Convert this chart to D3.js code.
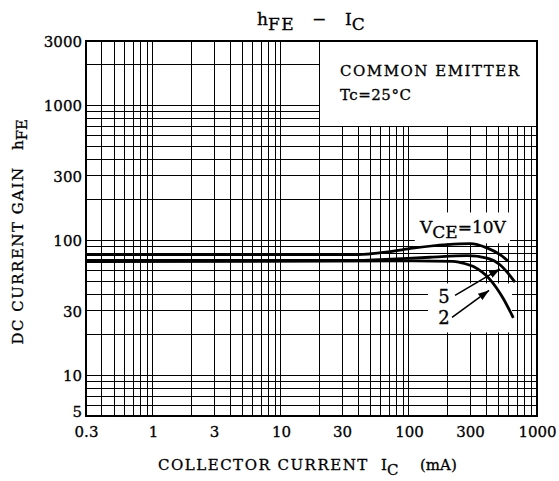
<!DOCTYPE html>
<html>
<head>
<meta charset="utf-8">
<script src="https://cdn.jsdelivr.net/npm/d3@7"></script>
<style>
body { margin: 0; background: #fff; }
text { font-family: "DejaVu Serif", serif; fill: #000; stroke: #000; stroke-width: 0.3px; }
</style>
</head>
<body>
<script>
// axis labels
const xTicks = [0.3, 1, 3, 10, 30, 100, 300, 1000]
const yTicks = [5, 10, 30, 100, 300, 1000, 3000]

// hFE vs IC (mA)
const vce10 = [[0.3, 78.5], [40, 78.5], [71, 82.5], [107, 87.5], [198, 93], [300, 94.5], [406, 88], [514, 78.5], [597, 70]]
const vce5 = [[0.3, 71], [40, 71], [59, 72], [146, 75], [284, 77], [406, 74], [514, 66], [673, 49]]
const vce2 = [[0.3, 69.5], [107, 70.5], [221, 70], [250, 68.7], [316, 64.2], [430, 51.2], [542, 37.4], [653, 26.7]]

// arrows pointing from the "5" / "2" labels to their curves
const arrow5 = [[229, 39.1], [514, 61.5]]
const arrow2 = [[217, 26.9], [422, 42.6]]
const curveLabels = [{ text: "5", ic: 188, hfe: 34.3 }, { text: "2", ic: 188, hfe: 23.9 }]

const W = 559, H = 481
const pLeft = 86, pRight = 537, pTop = 41, pBottom = 416

const svg = d3.select("body").append("svg")
    .attr("width", W)
    .attr("height", H)

const x = d3.scaleLog().domain([0.3, 1000]).range([pLeft, pRight])
const y = d3.scaleLog().domain([5, 3000]).range([pBottom, pTop])

// grid: every 1..9 of each decade
let grid = svg.append("g").attr("shape-rendering", "crispEdges")
grid.selectAll("line.v").data(x.ticks()).enter().append("line")
    .attr("x1", d => x(d)).attr("x2", d => x(d))
    .attr("y1", pTop).attr("y2", pBottom)
    .attr("stroke", "#000").attr("stroke-width", 1)
grid.selectAll("line.h").data(y.ticks()).enter().append("line")
    .attr("x1", pLeft).attr("x2", pRight)
    .attr("y1", d => y(d)).attr("y2", d => y(d))
    .attr("stroke", "#000").attr("stroke-width", 1)

// legend box covers grid in the top right
svg.append("rect")
    .attr("x", x(20)).attr("y", y(3000))
    .attr("width", x(1000) - x(20)).attr("height", y(700) - y(3000))
    .attr("fill", "#fff").attr("stroke", "#000").attr("stroke-width", 1)
    .attr("shape-rendering", "crispEdges")

svg.append("text").attr("x", 340).attr("y", 76)
    .attr("font-size", 15).attr("letter-spacing", 1.5)
    .text("COMMON EMITTER")
svg.append("text").attr("x", 340).attr("y", 100)
    .attr("font-size", 15).attr("letter-spacing", 0.5)
    .text("Tc=25°C")

// white patches behind curve labels
svg.append("rect")
    .attr("x", x(111)).attr("y", y(161))
    .attr("width", x(615) - x(111)).attr("height", y(95) - y(161))
    .attr("fill", "#fff")
svg.append("rect")
    .attr("x", x(141)).attr("y", y(48))
    .attr("width", x(638) - x(141)).attr("height", y(20.8) - y(48))
    .attr("fill", "#fff")

// frame
svg.append("rect")
    .attr("x", pLeft).attr("y", pTop)
    .attr("width", pRight - pLeft).attr("height", pBottom - pTop)
    .attr("fill", "none").attr("stroke", "#000").attr("stroke-width", 2)

// curves
let line = d3.line()
    .x(d => x(d[0]))
    .y(d => y(d[1]))
    .curve(d3.curveMonotoneX)
svg.selectAll("path.curve").data([vce10, vce5, vce2]).enter().append("path")
    .attr("class", "curve")
    .attr("d", line)
    .attr("fill", "none")
    .attr("stroke", "#000")
    .attr("stroke-width", 2.8)

// arrows
svg.append("defs").append("marker")
    .attr("id", "head")
    .attr("viewBox", "0 0 10 10")
    .attr("refX", 10).attr("refY", 5)
    .attr("markerWidth", 11).attr("markerHeight", 11)
    .attr("markerUnits", "userSpaceOnUse")
    .attr("orient", "auto")
    .append("path").attr("d", "M0,1.5L10,5L0,8.5Z").attr("fill", "#000")
svg.selectAll("line.arrow").data([arrow5, arrow2]).enter().append("line")
    .attr("x1", d => x(d[0][0])).attr("y1", d => y(d[0][1]))
    .attr("x2", d => x(d[1][0])).attr("y2", d => y(d[1][1]))
    .attr("stroke", "#000").attr("stroke-width", 1.6)
    .attr("marker-end", "url(#head)")

svg.selectAll("text.clabel").data(curveLabels).enter().append("text")
    .attr("x", d => x(d.ic)).attr("y", d => y(d.hfe))
    .attr("text-anchor", "middle")
    .attr("font-size", 18)
    .text(d => d.text)

let vce = svg.append("text").attr("x", x(122)).attr("y", y(112.7)).attr("font-size", 17)
vce.append("tspan").text("V")
vce.append("tspan").attr("dy", 5).text("CE")
vce.append("tspan").attr("dy", -5).text("=10V")

// axes (labels only, grid drawn above)
let xAxis = svg.append("g")
    .attr("transform", `translate(0,${pBottom})`)
    .call(d3.axisBottom(x).tickValues(xTicks).tickFormat(d => d).tickSize(0).tickPadding(10))
xAxis.select(".domain").remove()
xAxis.selectAll("text").attr("font-size", 15).attr("font-family", "DejaVu Serif")

let yAxis = svg.append("g")
    .attr("transform", `translate(${pLeft},0)`)
    .call(d3.axisLeft(y).tickValues(yTicks).tickFormat(d => d).tickSize(0).tickPadding(4))
yAxis.select(".domain").remove()
// bottom label "5" sits a bit higher so it clears "0.3"
yAxis.selectAll("text").attr("font-size", 15).attr("font-family", "DejaVu Serif")
    .attr("dy", d => d == 5 ? "0.06em" : "0.36em")

// title
let title = svg.append("text").attr("x", 257).attr("y", 25).attr("font-size", 17)
title.append("tspan").text("h")
title.append("tspan").attr("dy", 5).attr("letter-spacing", 1.5).text("FE")
title.append("tspan").attr("x", 312).attr("dy", -5).text("−")
title.append("tspan").attr("x", 345).text("I")
title.append("tspan").attr("dy", 5).text("C")

// x axis title
let xt = svg.append("text").attr("y", 470).attr("font-size", 15)
xt.append("tspan").attr("x", 158).attr("letter-spacing", 1.5).text("COLLECTOR CURRENT")
xt.append("tspan").attr("x", 381).text("I")
xt.append("tspan").attr("dy", 5).text("C")
xt.append("tspan").attr("x", 420).attr("dy", -5).text("(mA)")

// y axis title
svg.append("text")
    .attr("transform", "translate(23,255.5) rotate(-90)")
    .attr("text-anchor", "middle")
    .attr("font-size", 15).attr("letter-spacing", 1.5)
    .text("DC CURRENT GAIN")
let yt = svg.append("text")
    .attr("transform", "translate(23,150) rotate(-90)")
    .attr("font-size", 15)
yt.append("tspan").text("h")
yt.append("tspan").attr("dy", 4).text("FE")
</script>
</body>
</html>
